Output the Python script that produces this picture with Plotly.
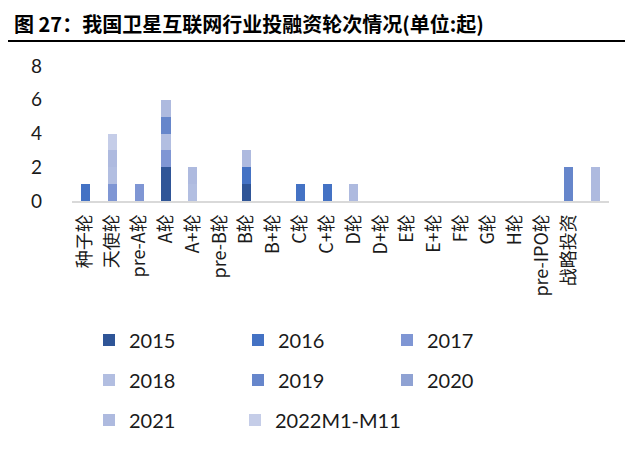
import plotly.graph_objects as go

categories = ["种子轮", "天使轮", "pre-A轮", "A轮", "A+轮", "pre-B轮", "B轮", "B+轮", "C轮", "C+轮",
              "D轮", "D+轮", "E轮", "E+轮", "F轮", "G轮", "H轮", "pre-IPO轮", "战略投资", " "]

s2015 = [0, 0, 0, 2, 0, 0, 1, 0, 0, 0, 0, 0, 0, 0, 0, 0, 0, 0, 0, 0]
s2016 = [1, 0, 0, 0, 0, 0, 1, 0, 1, 1, 0, 0, 0, 0, 0, 0, 0, 0, 0, 0]
s2017 = [0, 1, 1, 1, 0, 0, 0, 0, 0, 0, 0, 0, 0, 0, 0, 0, 0, 0, 0, 0]
s2018 = [0, 1, 0, 1, 1, 0, 0, 0, 0, 0, 0, 0, 0, 0, 0, 0, 0, 0, 0, 0]
s2019 = [0, 0, 0, 1, 0, 0, 0, 0, 0, 0, 0, 0, 0, 0, 0, 0, 0, 0, 2, 0]
s2020 = [0, 0, 0, 0, 0, 0, 0, 0, 0, 0, 0, 0, 0, 0, 0, 0, 0, 0, 0, 0]
s2021 = [0, 1, 0, 1, 1, 0, 1, 0, 0, 0, 1, 0, 0, 0, 0, 0, 0, 0, 0, 2]
s2022 = [0, 1, 0, 0, 0, 0, 0, 0, 0, 0, 0, 0, 0, 0, 0, 0, 0, 0, 0, 0]

series_names = ["2015", "2016", "2017", "2018", "2019", "2020", "2021", "2022M1-M11"]
series_values = [s2015, s2016, s2017, s2018, s2019, s2020, s2021, s2022]
colors = ["#2F5597", "#4472C4", "#7F96D4", "#B2BEE1", "#6686CB", "#8FA2D3", "#AEBADF", "#C5CDE8"]
legend_ids = ["legend", "legend", "legend", "legend2", "legend2", "legend2", "legend3", "legend4"]

fig = go.Figure()
for name, vals, col, lg in zip(series_names, series_values, colors, legend_ids):
    fig.add_trace(go.Bar(x=categories, y=vals, name=name, marker_color=col,
                         marker_line_width=0, legend=lg))

# page body has an 8px margin: work in coordinates offset by 8px
OFF = 8
FW, FH = 637 - OFF, 453 - OFF
PLOT_L, PLOT_R, PLOT_T, PLOT_B = 72 - OFF, 609 - OFF, 66 - OFF, 201 - OFF
W = PLOT_R - PLOT_L
H = PLOT_B - PLOT_T
legend_font = dict(family="Lato, sans-serif", size=20, color="#1a1a1a")

def leg(xpx, ypx, ew=104):
    return dict(orientation="h", x=(xpx - OFF - PLOT_L) / W, xanchor="left",
                y=(PLOT_B - (ypx - OFF)) / H, yanchor="middle",
                entrywidth=ew, entrywidthmode="pixels", font=legend_font,
                bgcolor="rgba(0,0,0,0)", traceorder="normal")

fig.update_layout(
    width=FW, height=FH,
    margin=dict(l=PLOT_L, r=FW - PLOT_R, t=PLOT_T, b=FH - PLOT_B, pad=0, autoexpand=False),
    paper_bgcolor="white", plot_bgcolor="white",
    barmode="stack", bargap=0.66,
    showlegend=True,
    legend=leg(89, 340), legend2=leg(89, 380), legend3=leg(89, 420), legend4=leg(235, 420, 150),
    title=dict(text="<b>图 27：我国卫星互联网行业投融资轮次情况(单位:起)</b>",
               x=6 / FW, xanchor="left", y=1 - (25 - OFF) / FH, yanchor="middle",
               font=dict(family="Noto Sans CJK SC, sans-serif", size=20, color="black")),
    xaxis=dict(type="category", tickangle=-90, showgrid=False, showline=True, automargin=False,
               linecolor="#D9D9D9", linewidth=2, ticks="", ticklabelstandoff=4,
               tickfont=dict(family="Noto Sans CJK SC, sans-serif", size=18, color="#1a1a1a")),
    yaxis=dict(range=[0, 8], tickvals=[0, 2, 4, 6, 8], showgrid=False, showline=False,
               zeroline=False, ticks="", ticklabelstandoff=29, automargin=False,
               tickfont=dict(family="Lato, sans-serif", size=19, color="#1a1a1a")),
    shapes=[dict(type="line", xref="paper", yref="paper",
                 x0=(0 - PLOT_L) / W, x1=(625 - OFF - PLOT_L) / W,
                 y0=(PLOT_B - (41 - OFF)) / H, y1=(PLOT_B - (41 - OFF)) / H,
                 line=dict(color="black", width=2))],
)

fig.write_html("out.html")
